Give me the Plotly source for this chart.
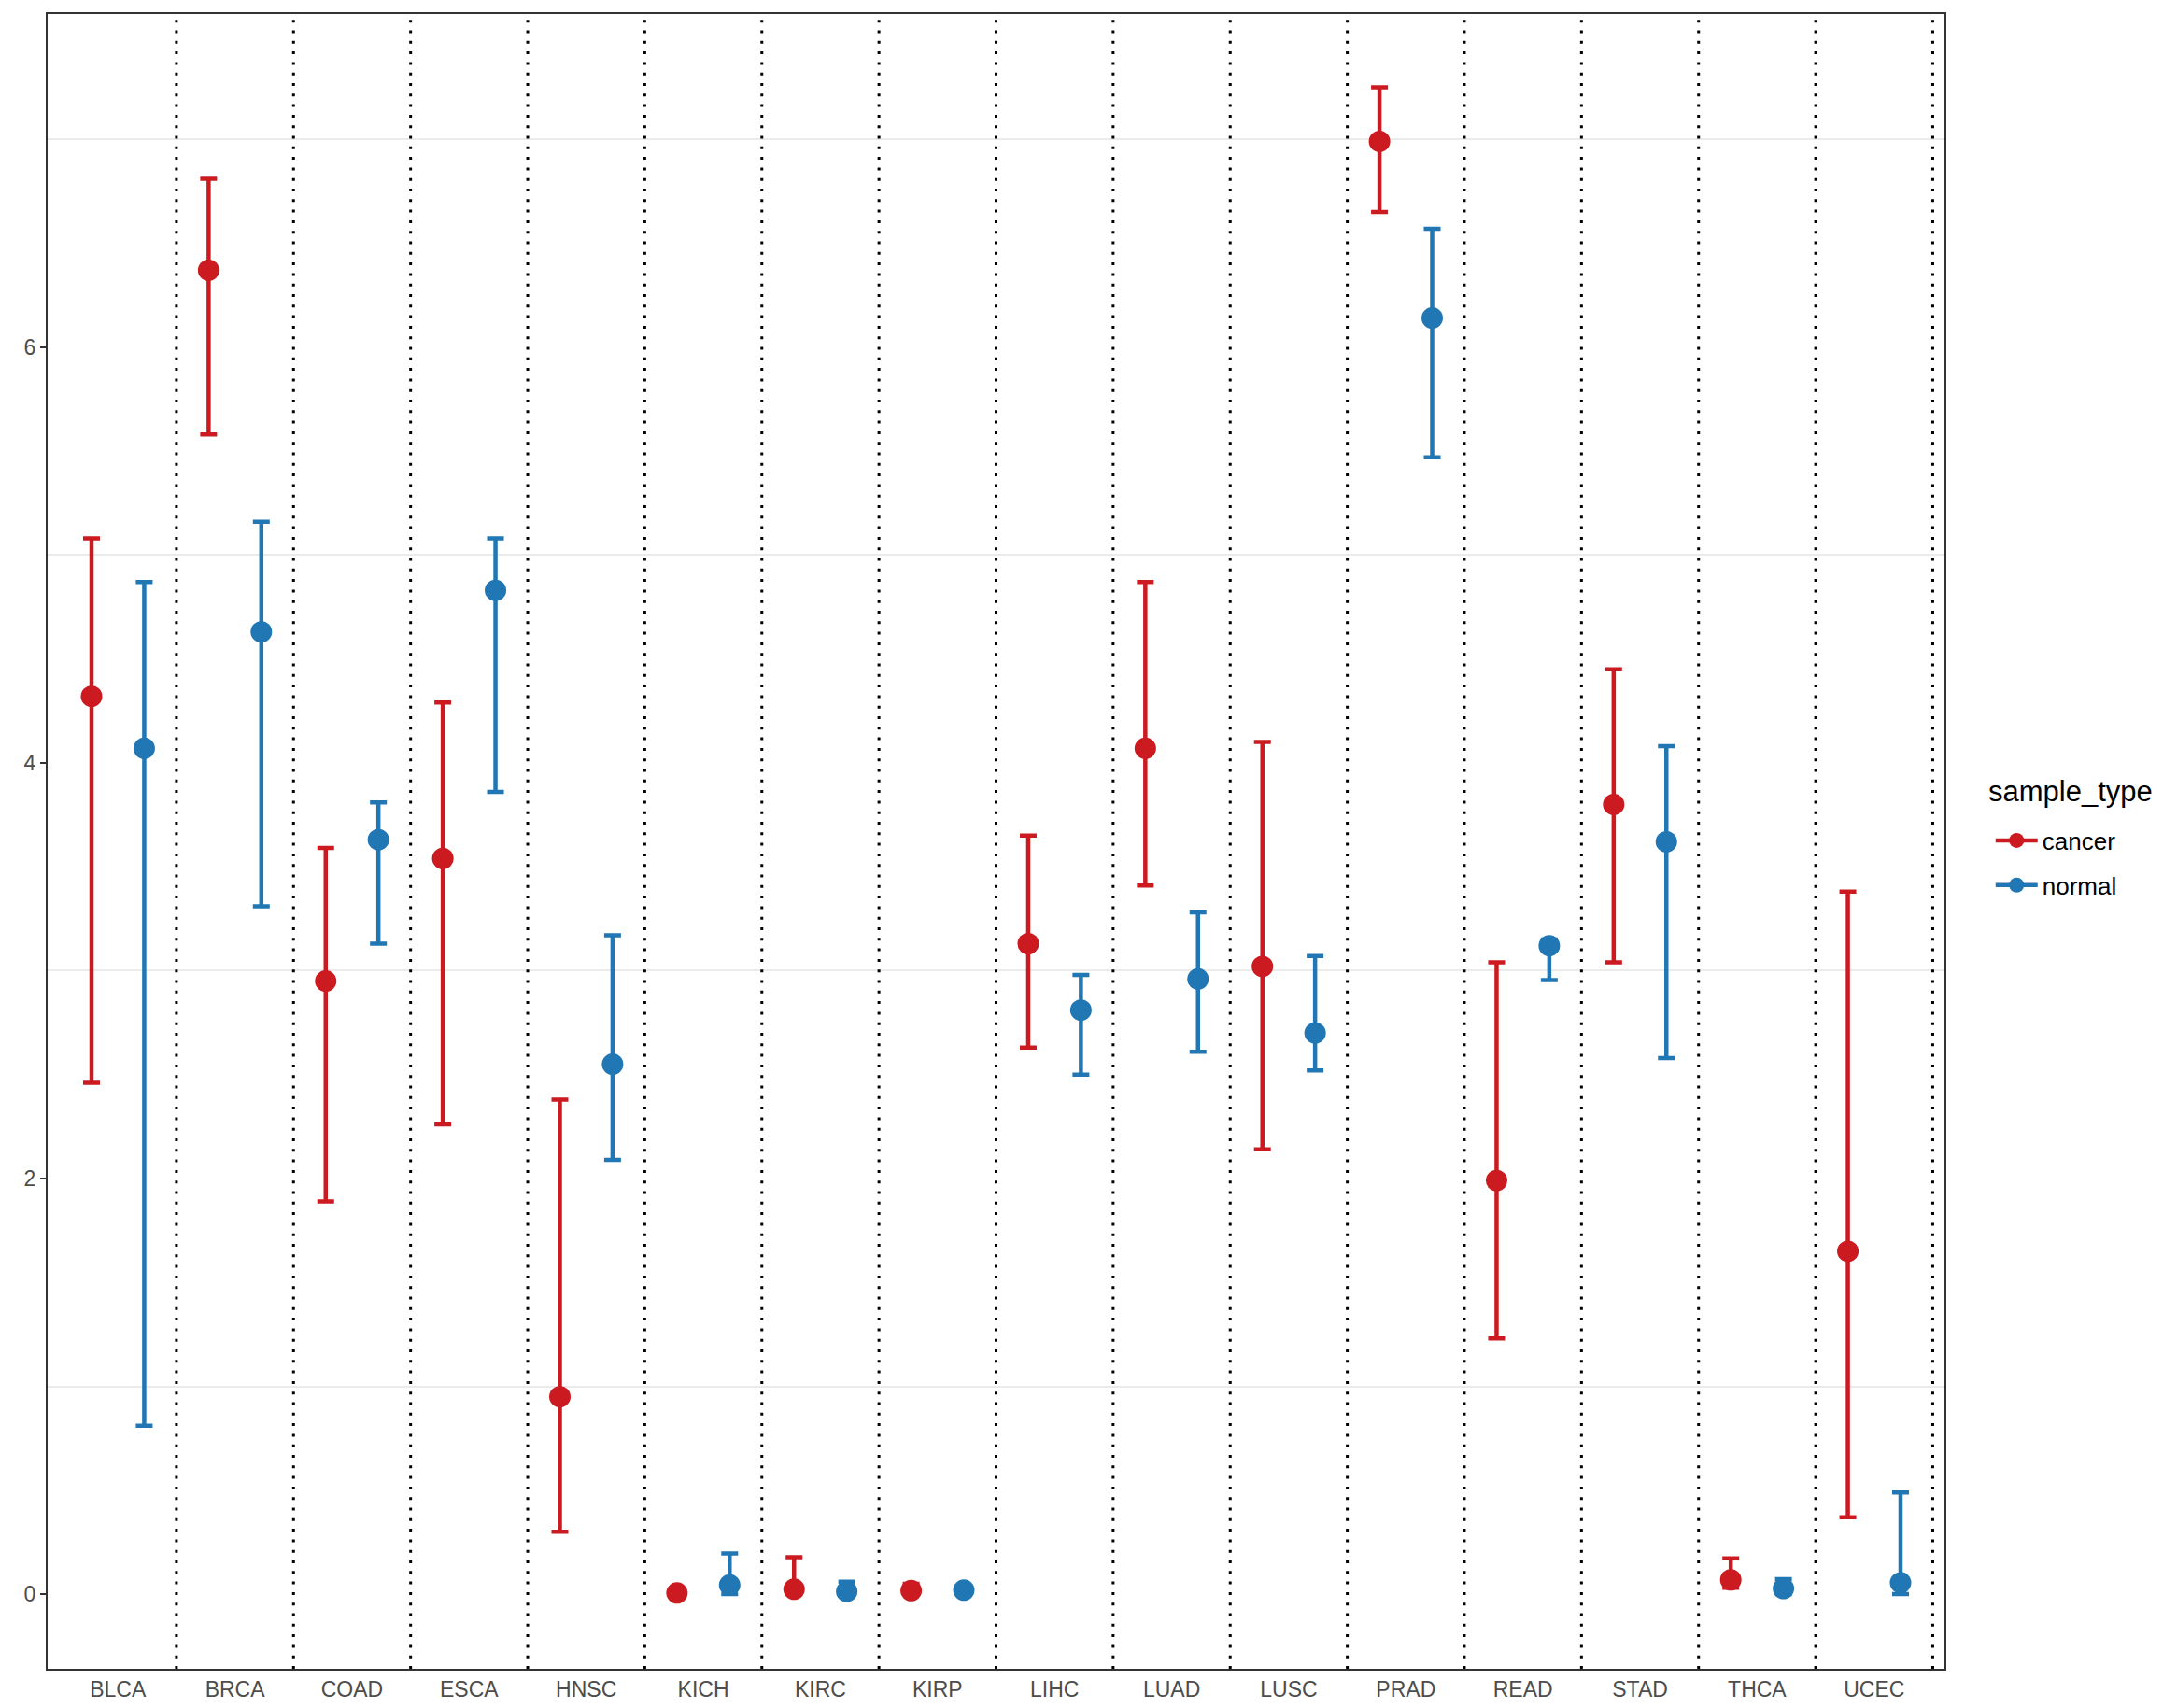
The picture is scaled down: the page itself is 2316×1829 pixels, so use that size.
import plotly.graph_objects as go

categories = ["BLCA", "BRCA", "COAD", "ESCA", "HNSC", "KICH", "KIRC", "KIRP",
              "LIHC", "LUAD", "LUSC", "PRAD", "READ", "STAD", "THCA", "UCEC"]

cancer_mean = [4.32, 6.37, 2.95, 3.54, 0.95, 0.006, 0.024, 0.017,
               3.13, 4.07, 3.02, 6.99, 1.99, 3.80, 0.069, 1.65]
cancer_upper = [5.08, 6.81, 3.59, 4.29, 2.38, 0.01, 0.178, 0.05,
                3.65, 4.87, 4.10, 7.25, 3.04, 4.45, 0.172, 3.38]
cancer_lower = [2.46, 5.58, 1.89, 2.26, 0.30, 0.0, 0.0, 0.0,
                2.63, 3.41, 2.14, 6.65, 1.23, 3.04, 0.031, 0.37]

normal_mean = [4.07, 4.63, 3.63, 4.83, 2.55, 0.044, 0.013, 0.019,
               2.81, 2.96, 2.70, 6.14, 3.12, 3.62, 0.027, 0.055]
normal_upper = [4.87, 5.16, 3.81, 5.08, 3.17, 0.196, 0.06, 0.03,
                2.98, 3.28, 3.07, 6.57, 3.15, 4.08, 0.072, 0.489]
normal_lower = [0.81, 3.31, 3.13, 3.86, 2.09, 0.001, 0.0, 0.0,
                2.50, 2.61, 2.52, 5.47, 2.955, 2.58, 0.0, 0.0]

y_ticks = [0, 2, 4, 6]
y_minor = [1, 3, 5, 7]

RED = "#CB1B20"
BLUE = "#2077B4"
DODGE = 0.225

idx = list(range(1, len(categories) + 1))

fig = go.Figure()

series = [
    ("cancer", RED, -DODGE, cancer_mean, cancer_upper, cancer_lower),
    ("normal", BLUE, DODGE, normal_mean, normal_upper, normal_lower),
]

for name, color, off, mean, up, lo in series:
    xs = [i + off for i in idx]
    fig.add_trace(go.Scatter(
        x=xs, y=mean, mode="markers", name=name, showlegend=False,
        marker=dict(color=color, size=23),
        error_y=dict(type="data", symmetric=False,
                     array=[u - m for u, m in zip(up, mean)],
                     arrayminus=[m - l for m, l in zip(mean, lo)],
                     color=color, thickness=4.5, width=9),
    ))

for name, color, *_ in series:
    fig.add_trace(go.Scatter(
        x=[None], y=[None], mode="lines+markers", name=name,
        legendgroup=name,
        line=dict(color=color, width=4.5),
        marker=dict(color=color, size=23),
    ))

for k in range(1, len(categories) + 1):
    fig.add_shape(type="line", xref="x", yref="paper",
                  x0=k + 0.5, x1=k + 0.5, y0=0, y1=1,
                  line=dict(color="black", width=3, dash="3px,8.3px"),
                  layer="above")

fig.add_annotation(
    text="sample_type", xref="paper", yref="paper",
    x=1.0222, y=0.5304, xanchor="left", yanchor="middle",
    showarrow=False, font=dict(size=31, color="black"),
)

fig.update_layout(
    width=2308, height=1821,
    margin=dict(l=43, r=234, t=5, b=42),
    paper_bgcolor="white", plot_bgcolor="white",
    font=dict(family="Liberation Sans, Arial, sans-serif", color="#4D4D4D"),
    legend=dict(
        font=dict(size=26, color="black"),
        x=1.0245, xanchor="left", y=0.487, yanchor="middle",
        itemsizing="trace", itemwidth=45, tracegroupgap=11,
        bgcolor="rgba(0,0,0,0)",
    ),
    xaxis=dict(
        range=[0.4, 16.6], tickmode="array", tickvals=idx, ticktext=categories,
        showgrid=False, zeroline=False,
        showline=True, linecolor="#333333", linewidth=2, mirror=True,
        ticks="", tickfont=dict(size=23, color="#4D4D4D"),
    ),
    yaxis=dict(
        range=[-0.359, 7.603], tickmode="array", tickvals=y_ticks,
        ticktext=[str(v) for v in y_ticks],
        showgrid=False, zeroline=False,
        showline=True, linecolor="#333333", linewidth=2, mirror=True,
        ticks="outside", ticklen=6, tickwidth=2, tickcolor="#333333",
        tickfont=dict(size=23, color="#4D4D4D"),
        minor=dict(tickmode="array", tickvals=y_minor, showgrid=True,
                   gridcolor="#EBEBEB", gridwidth=1.5, ticks=""),
    ),
)

fig.write_html("out.html")
